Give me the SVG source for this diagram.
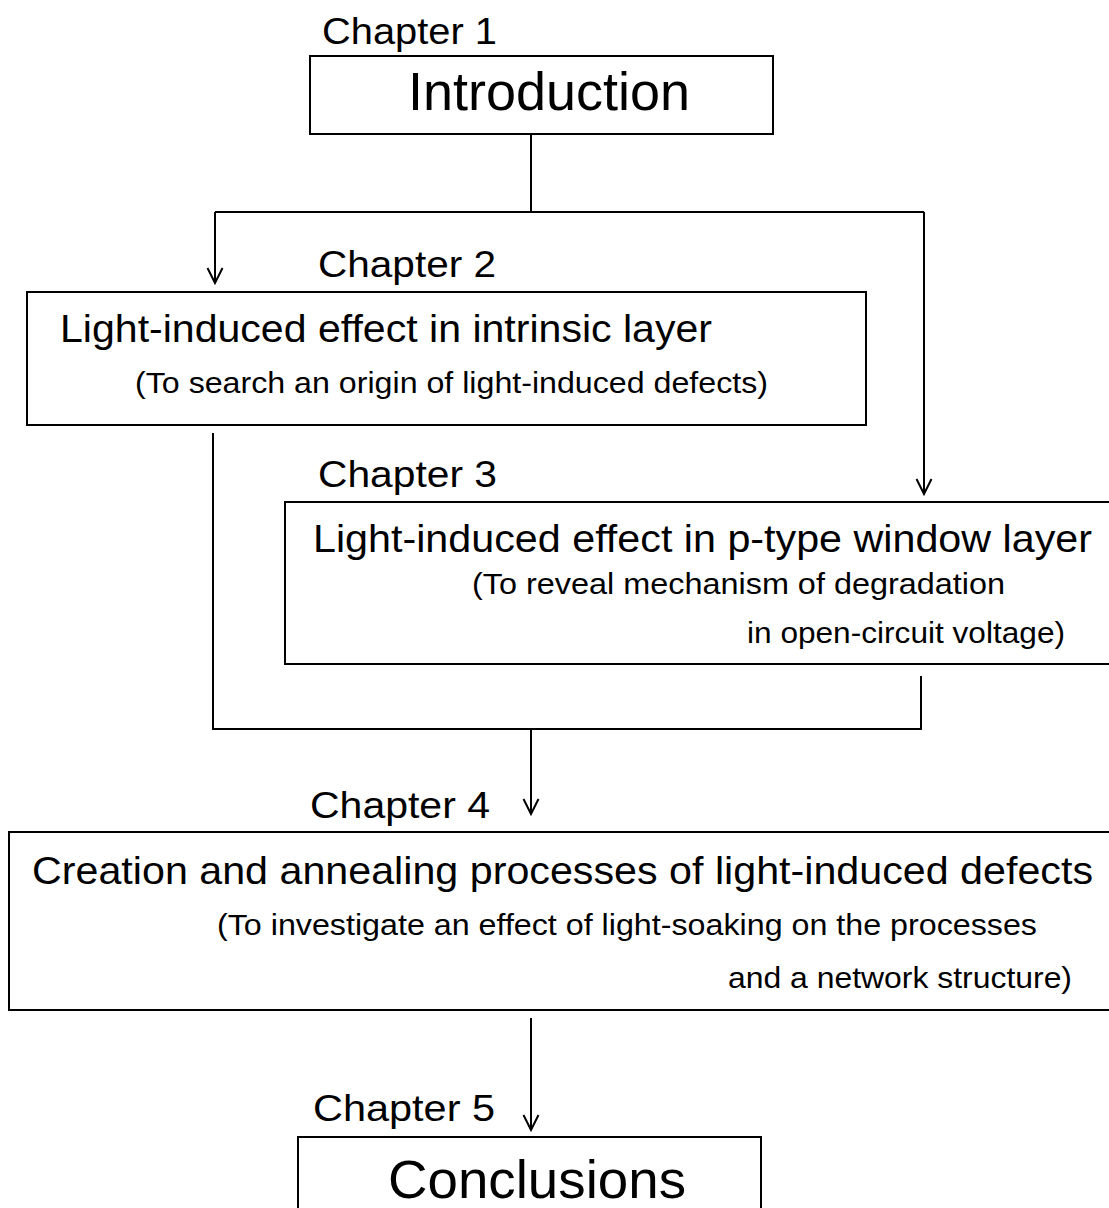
<svg xmlns="http://www.w3.org/2000/svg" width="1109" height="1208" viewBox="0 0 1109 1208">
<defs>
<marker id="arr" markerUnits="userSpaceOnUse" viewBox="-18 -10 20 20" refX="0" refY="0" markerWidth="20" markerHeight="20" orient="auto">
<path d="M-15,-7.5 L0,0 L-15,7.5" fill="none" stroke="#000" stroke-width="2"/>
</marker>
<style>
text{font-family:"Liberation Sans",Arial,sans-serif;fill:#000}
.ch{font-size:36px}
.big{font-size:54px}
.ti{font-size:39px}
.sub{font-size:29px}
.box{fill:#fff;stroke:#000;stroke-width:2}
.ln{fill:none;stroke:#000;stroke-width:2}
</style>
</defs>
<rect width="1109" height="1208" fill="#fff"/>
<g id="connectors">
<path class="ln" d="M531,134 V212"/>
<path class="ln" d="M215,212 H924"/>
<path class="ln" d="M215,212 V283" marker-end="url(#arr)"/>
<path class="ln" d="M924,212 V494" marker-end="url(#arr)"/>
<path class="ln" d="M213,433 V729 H921 V676"/>
<path class="ln" d="M531,729 V814" marker-end="url(#arr)"/>
<path class="ln" d="M531,1018 V1130" marker-end="url(#arr)"/>
</g>
<g id="ch1">
<text class="ch" x="322" y="44" textLength="175" lengthAdjust="spacingAndGlyphs">Chapter 1</text>
<rect class="box" x="310" y="56" width="463" height="78"/>
<text class="big" x="408" y="110" textLength="282" lengthAdjust="spacingAndGlyphs">Introduction</text>
</g>
<g id="ch2">
<text class="ch" x="318" y="277" textLength="178" lengthAdjust="spacingAndGlyphs">Chapter 2</text>
<rect class="box" x="27" y="292" width="839" height="133"/>
<text class="ti" x="60" y="342" textLength="652" lengthAdjust="spacingAndGlyphs">Light-induced effect in intrinsic layer</text>
<text class="sub" x="135" y="393" textLength="633" lengthAdjust="spacingAndGlyphs">(To search an origin of light-induced defects)</text>
</g>
<g id="ch3">
<text class="ch" x="318" y="487" textLength="179" lengthAdjust="spacingAndGlyphs">Chapter 3</text>
<rect class="box" x="285" y="502" width="840" height="162"/>
<text class="ti" x="313" y="552" textLength="779" lengthAdjust="spacingAndGlyphs">Light-induced effect in p-type window layer</text>
<text class="sub" x="472" y="594" textLength="533" lengthAdjust="spacingAndGlyphs">(To reveal mechanism of degradation</text>
<text class="sub" x="747" y="643" textLength="318" lengthAdjust="spacingAndGlyphs">in open-circuit voltage)</text>
</g>
<g id="ch4">
<text class="ch" x="310" y="818" textLength="180" lengthAdjust="spacingAndGlyphs">Chapter 4</text>
<rect class="box" x="9" y="832" width="1115" height="178"/>
<text class="ti" x="32" y="884" textLength="1061" lengthAdjust="spacingAndGlyphs">Creation and annealing processes of light-induced defects</text>
<text class="sub" x="217" y="935" textLength="820" lengthAdjust="spacingAndGlyphs">(To investigate an effect of light-soaking on the processes</text>
<text class="sub" x="728" y="988" textLength="344" lengthAdjust="spacingAndGlyphs">and a network structure)</text>
</g>
<g id="ch5">
<text class="ch" x="313" y="1121" textLength="182" lengthAdjust="spacingAndGlyphs">Chapter 5</text>
<rect class="box" x="298" y="1137" width="463" height="90"/>
<text class="big" x="388" y="1198" textLength="298" lengthAdjust="spacingAndGlyphs">Conclusions</text>
</g>
</svg>
